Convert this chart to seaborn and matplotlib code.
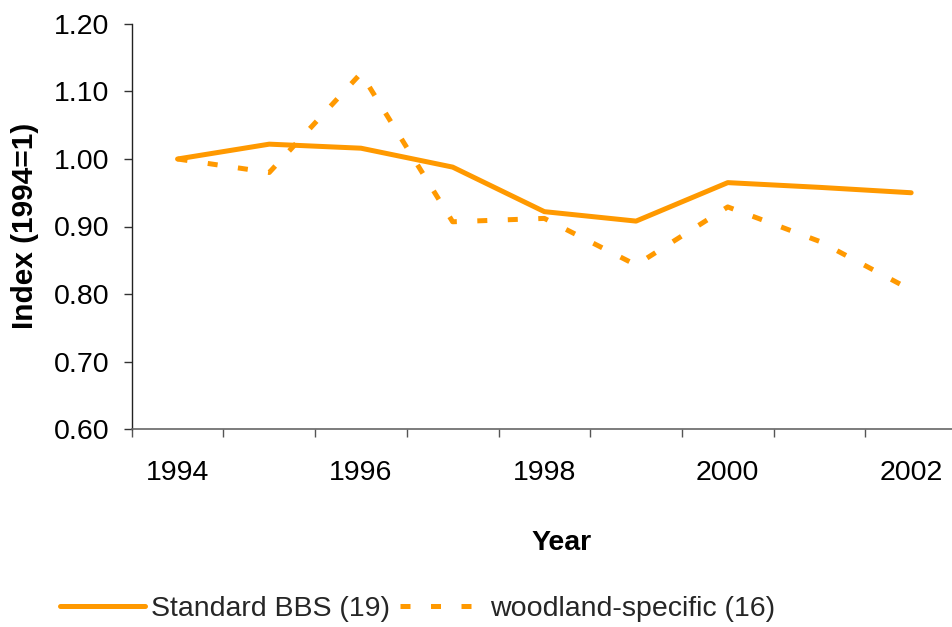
import matplotlib
matplotlib.use("Agg")
import matplotlib.pyplot as plt
import seaborn as sns
import pandas as pd
import numpy as np
from matplotlib.ticker import FixedLocator, FixedFormatter, FormatStrFormatter, NullFormatter

# ---- data ----
years = [1994, 1995, 1996, 1997, 1998, 1999, 2000, 2001, 2002]
standard_bbs = [1.000, 1.022, 1.016, 0.988, 0.922, 0.908, 0.965, 0.958, 0.950]
woodland_specific = [1.000, 0.980, 1.127, 0.907, 0.912, 0.843, 0.929, 0.878, 0.806]
series_names = ["Standard BBS (19)", "woodland-specific (16)"]
x_label_years = [1994, 1996, 1998, 2000, 2002]
y_ticks = [0.60, 0.70, 0.80, 0.90, 1.00, 1.10, 1.20]

orange = "#FF9900"

sns.set_theme(style="white")
plt.rcParams['font.family'] = ['Liberation Sans', 'DejaVu Sans']

df = pd.DataFrame({
    "Year": years * 2,
    "Index": standard_bbs + woodland_specific,
    "Series": [series_names[0]] * len(years) + [series_names[1]] * len(years),
})

W, H = 952, 627
fig = plt.figure(figsize=(W / 100, H / 100), dpi=100)
ax_left, ax_right, ax_top, ax_bottom = 131.7, 957.0, 24.0, 429.0
ax = fig.add_axes([ax_left / W, 1 - ax_bottom / H, (ax_right - ax_left) / W, (ax_bottom - ax_top) / H])

sns.lineplot(
    data=df, x="Year", y="Index", hue="Series", style="Series",
    palette={series_names[0]: orange, series_names[1]: orange},
    dashes={series_names[0]: "", series_names[1]: (2.0, 4.1)},
    linewidth=3.6, ax=ax, legend=False, sort=False,
)
lines = ax.get_lines()
lines[0].set_solid_capstyle("round")
lines[0].set_solid_joinstyle("round")
lines[1].set_dash_capstyle("butt")

ax.set_xlim(years[0] - 0.5, years[-1] + 0.5)
ax.set_ylim(y_ticks[0], y_ticks[-1])

# category-boundary ticks, labels at centres of every other year
bounds = [y - 0.5 for y in years] + [years[-1] + 0.5]
ax.xaxis.set_major_locator(FixedLocator(bounds))
ax.xaxis.set_major_formatter(NullFormatter())
ax.xaxis.set_minor_locator(FixedLocator(x_label_years))
ax.xaxis.set_minor_formatter(FixedFormatter([str(y) for y in x_label_years]))
ax.tick_params(axis="x", which="major", direction="out", length=6, width=1.0, color="#555555", bottom=True)
ax.tick_params(axis="x", which="minor", length=0, pad=22.5, labelsize=20.5, labelcolor="black", bottom=True)

ax.yaxis.set_major_locator(FixedLocator(y_ticks))
ax.yaxis.set_major_formatter(FormatStrFormatter("%.2f"))
ax.tick_params(axis="y", which="major", direction="out", length=6, width=1.0, color="#333333",
               pad=10, labelsize=20.5, labelcolor="black", left=True)

for side in ["top", "right"]:
    ax.spines[side].set_visible(False)
ax.spines["left"].set_color("#222222")
ax.spines["left"].set_linewidth(1.0)
ax.spines["bottom"].set_color("#666666")
ax.spines["bottom"].set_linewidth(1.2)
ax.set_xlabel("")
ax.set_ylabel("")
ax.grid(False)

fig.text(25 / W, 1 - 226 / H, "Index (1994=1)", rotation=90, ha="center", va="center",
         fontsize=21.5, fontweight="bold", color="black")
fig.text(562 / W, 1 - 543 / H, "Year", ha="center", va="center",
         fontsize=20.5, fontweight="bold", color="black")

fig.legend(handles=lines, labels=series_names, loc="center left",
           bbox_to_anchor=(60 / W, 1 - 609 / H), ncol=2, frameon=False,
           borderpad=0, borderaxespad=0, handlelength=3.0, handletextpad=0.18,
           columnspacing=0.35, fontsize=20.5)

fig.savefig("out.png", dpi=100, facecolor="white")
